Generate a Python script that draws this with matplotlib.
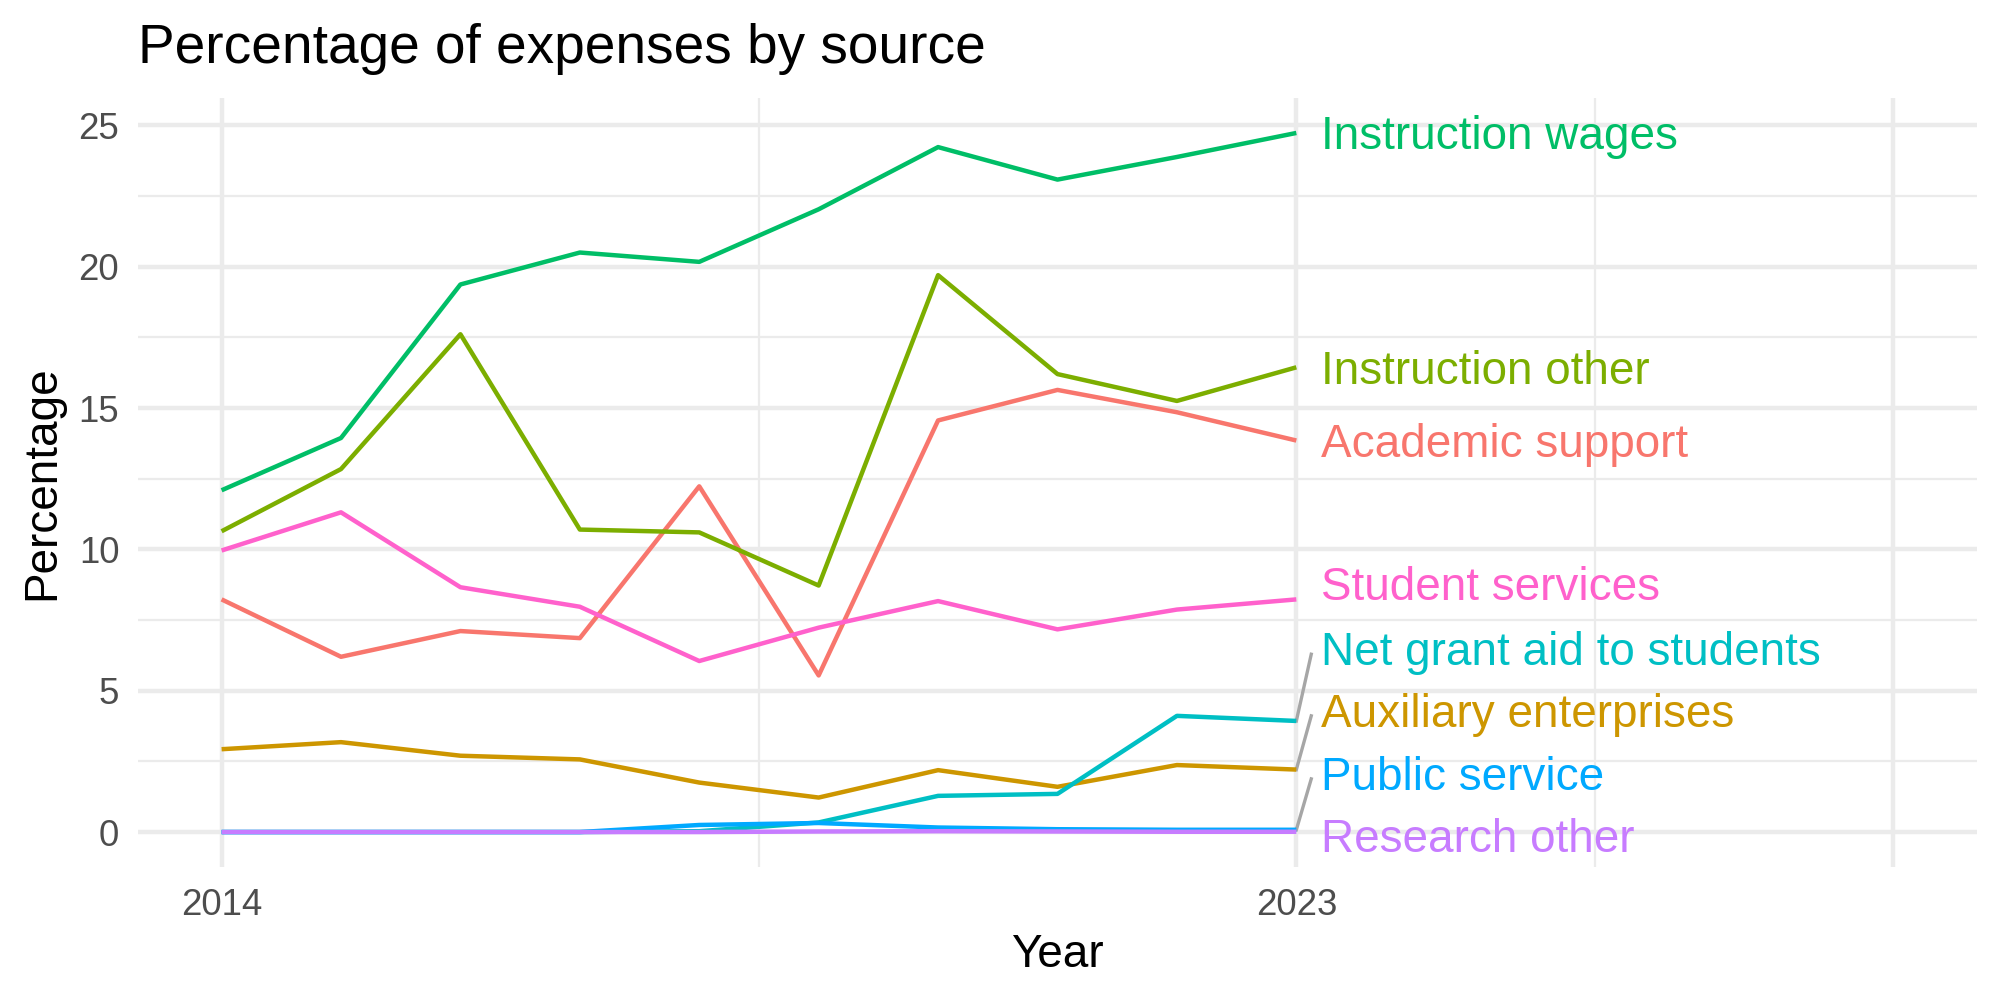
import numpy as np
import matplotlib.pyplot as plt

plt.rcParams['font.family'] = ['Liberation Sans', 'DejaVu Sans']

years = np.arange(2014, 2024)

academic_support = [8.23, 6.20, 7.11, 6.86, 12.23, 5.54, 14.56, 15.64, 14.85, 13.85]
auxiliary_enterprises = [2.93, 3.18, 2.70, 2.57, 1.75, 1.22, 2.19, 1.60, 2.37, 2.21]
instruction_other = [10.64, 12.84, 17.61, 10.70, 10.60, 8.72, 19.70, 16.20, 15.25, 16.44]
instruction_wages = [12.09, 13.94, 19.37, 20.50, 20.17, 22.03, 24.23, 23.08, 23.88, 24.73]
net_grant_aid = [0.0, 0.0, 0.0, 0.0, 0.03, 0.34, 1.28, 1.35, 4.11, 3.93]
public_service = [0.0, 0.0, 0.0, 0.0, 0.25, 0.32, 0.16, 0.10, 0.08, 0.08]
research_other = [0.0, 0.0, 0.0, 0.0, 0.0, 0.02, 0.03, 0.02, 0.01, 0.01]
student_services = [9.96, 11.31, 8.66, 7.97, 6.05, 7.23, 8.17, 7.17, 7.87, 8.23]

names = ['Academic support', 'Auxiliary enterprises', 'Instruction other',
         'Instruction wages', 'Net grant aid to students', 'Public service',
         'Research other', 'Student services']
series = [academic_support, auxiliary_enterprises, instruction_other,
          instruction_wages, net_grant_aid, public_service, research_other,
          student_services]
colors = ['#F8766D', '#CD9600', '#7CAE00', '#00BE67', '#00BFC4', '#00A9FF',
          '#C77CFF', '#FF61CC']

# where the repelled labels ended up (y in data units)
label_y = [13.82, 4.28, 16.42, 24.73, 6.46, 2.05, -0.13, 8.76]
has_segment = [False, True, False, False, True, True, False, False]

x_breaks = [2014, 2023, 2028]
x_labels = ['2014', '2023', '']
y_breaks = [0, 5, 10, 15, 20, 25]

fig = plt.figure(figsize=(20 / 3, 10 / 3), dpi=300)
ax = fig.add_axes([138 / 2000, 133 / 1000, (1977 - 138) / 2000, (867 - 98) / 1000])

for vals, c in zip(series, colors):
    ax.plot(years, vals, color=c, lw=1.07, solid_capstyle='butt', zorder=3)

last_x = years[-1]
for name, vals, c, ly, seg in zip(names, series, colors, label_y, has_segment):
    if seg:
        ax.plot([last_x, last_x + 0.125], [vals[-1], ly - 0.17], color='#A6A6A6',
                lw=0.8, zorder=2)
    # matplotlib centres on the full text box, nudge down to match
    ax.text(last_x + 0.21, ly - 0.14, name, color=c, fontsize=11, ha='left',
            va='center', zorder=4)

ymax = max(max(s) for s in series)
ax.set_xlim(2014 - 0.05 * 14, 2028 + 0.05 * 14)
ax.set_ylim(-0.05 * ymax, ymax * 1.05)

ax.set_xticks(x_breaks)
ax.set_xticklabels(x_labels)
ax.set_xticks([2018.5, 2025.5], minor=True)
ax.set_yticks(y_breaks)
ax.set_yticks([2.5, 7.5, 12.5, 17.5, 22.5], minor=True)

ax.grid(True, which='major', color='#EBEBEB', lw=1.07)
ax.grid(True, which='minor', color='#EBEBEB', lw=0.53)
ax.set_axisbelow(True)
for s in ax.spines.values():
    s.set_visible(False)
ax.tick_params(which='both', length=0, labelsize=8.8, labelcolor='#4D4D4D')
ax.tick_params(axis='x', pad=5.0)
ax.tick_params(axis='y', pad=4.5)

fig.text(0.069, 0.937, 'Percentage of expenses by source', fontsize=13.2,
         ha='left', va='baseline')
fig.text((138 + 1977) / 4000, 0.033, 'Year', fontsize=11, ha='center', va='baseline')
fig.text(0.021, 0.517, 'Percentage', fontsize=11, rotation=90, ha='center',
         va='center')

fig.savefig('out.png', dpi=300, facecolor='white')
